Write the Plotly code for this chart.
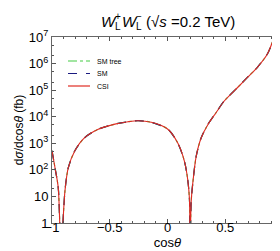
import plotly.graph_objects as go

cos_theta = [-1.0, -0.974, -0.946, -0.922, -0.888, -0.859, -0.802, -0.715, -0.600, -0.456,
             -0.342, -0.255, -0.14, 0.003, 0.09, 0.148, 0.176, 0.19, 0.196, 0.205, 0.219,
             0.248, 0.291, 0.349, 0.42, 0.493, 0.607, 0.694, 0.780, 0.866, 0.924, 0.96]
log_sm_tree = [2.72, 2.08, 1.33, -1.0, 1.20, 2.08, 2.72, 3.22, 3.53, 3.72,
               3.81, 3.85, 3.79, 3.53, 3.0, 2.3, 1.6, 0.9, -1.0, 0.8, 1.5,
               2.5, 3.2, 3.7, 4.15, 4.6, 5.1, 5.49, 5.87, 6.37, 7.0, 7.5]
log_sm = list(log_sm_tree)
log_csi = list(log_sm_tree)

sm_tree = [10 ** v for v in log_sm_tree]
sm = [10 ** v for v in log_sm]
csi = [10 ** v for v in log_csi]

legend_names = ["SM tree", "SM", "CSI"]
legend_colors = ["#44cc44", "#1a1a80", "#e02a22"]
legend_dashes = ["dashdot", "dash", "solid"]

FONT = "Liberation Sans, Arial, sans-serif"
W, H = 280, 251
ML, MR, MT, MB = 44, 5, 29, 36

fig = go.Figure()
for name, ys, col, dash, wd in zip(legend_names, [sm_tree, sm, csi], legend_colors, legend_dashes, [1.2, 1.2, 1.1]):
    fig.add_trace(go.Scatter(x=cos_theta, y=ys, mode="lines", name=name, showlegend=False,
                             line=dict(color=col, width=wd, dash=dash, shape="spline", smoothing=0.8)))

pw = W - ML - MR
ph = H - MT - MB
def px2paper_x(px):
    return (px - ML) / pw
def py2paper_y(py):
    return 1 - (py - MT) / ph

for i, (name, col, dash) in enumerate(zip(legend_names, legend_colors, legend_dashes)):
    yy = py2paper_y(53 + 12.5 * i)
    fig.add_shape(type="line", xref="paper", yref="paper",
                  x0=px2paper_x(60), x1=px2paper_x(82), y0=yy, y1=yy,
                  line=dict(color=col, width=1.2, dash=dash))
    fig.add_annotation(xref="paper", yref="paper", x=px2paper_x(87), y=yy, text=name,
                       showarrow=False, xanchor="left", yanchor="middle", font=dict(size=7))

# title composed of plain text pieces: W_L^+ W_L^- (√s =0.2 TeV)
title_pieces = [
    ("<i>W</i>", 92, 13, 15),
    ("L", 106, 18, 10),
    ("+", 106, 8, 10),
    ("<i>W</i>", 113, 13, 15),
    ("L", 127, 18, 10),
    ("−", 127, 8, 10),
    ("(√<i>s</i> =0.2 TeV)", 137, 13, 15),
]
for txt, px, py, fs in title_pieces:
    fig.add_annotation(xref="paper", yref="paper", x=px2paper_x(px), y=py2paper_y(py), text=txt,
                       showarrow=False, xanchor="left", yanchor="middle", font=dict(size=fs),
                       borderpad=0)

fig.update_layout(
    width=W, height=H,
    margin=dict(l=ML, r=MR, t=MT, b=MB, autoexpand=False),
    paper_bgcolor="white", plot_bgcolor="white",
    font=dict(family=FONT, color="black", size=13),
    showlegend=False,
)
fig.update_xaxes(range=[-1, 1], tickvals=[-1, -0.5, 0, 0.5, 1], ticktext=["−1", "−0.5", "0", "0.5", "1"],
                 ticks="inside", ticklen=4, tickcolor="#555", showline=True, linecolor="#666", linewidth=1,
                 mirror="allticks", showgrid=False, zeroline=False, automargin=False,
                 minor=dict(dtick=0.1, ticks="inside", ticklen=2, tickcolor="#555", showgrid=False),
                 title=dict(text="cos<i>θ</i>", font=dict(size=13), standoff=2),
                 tickfont=dict(size=13), ticklabelstandoff=-8)
fig.update_yaxes(type="log", range=[0, 7],
                 tickvals=[1, 10, 100, 1e3, 1e4, 1e5, 1e6, 1e7],
                 ticktext=["1", "10", "10<sup>2</sup>", "10<sup>3</sup>", "10<sup>4</sup>", "10<sup>5</sup>", "10<sup>6</sup>", "10<sup>7</sup>"],
                 ticks="inside", ticklen=4, tickcolor="#555", showline=True, linecolor="#666", linewidth=1,
                 mirror="allticks", showgrid=False, zeroline=False, automargin=False,
                 minor=dict(ticks="inside", ticklen=2, tickcolor="#555", showgrid=False),
                 title=dict(text="d<i>σ</i>/dcos<i>θ</i> (fb)", font=dict(size=12), standoff=2),
                 tickfont=dict(size=13))

fig.write_html("out.html")
